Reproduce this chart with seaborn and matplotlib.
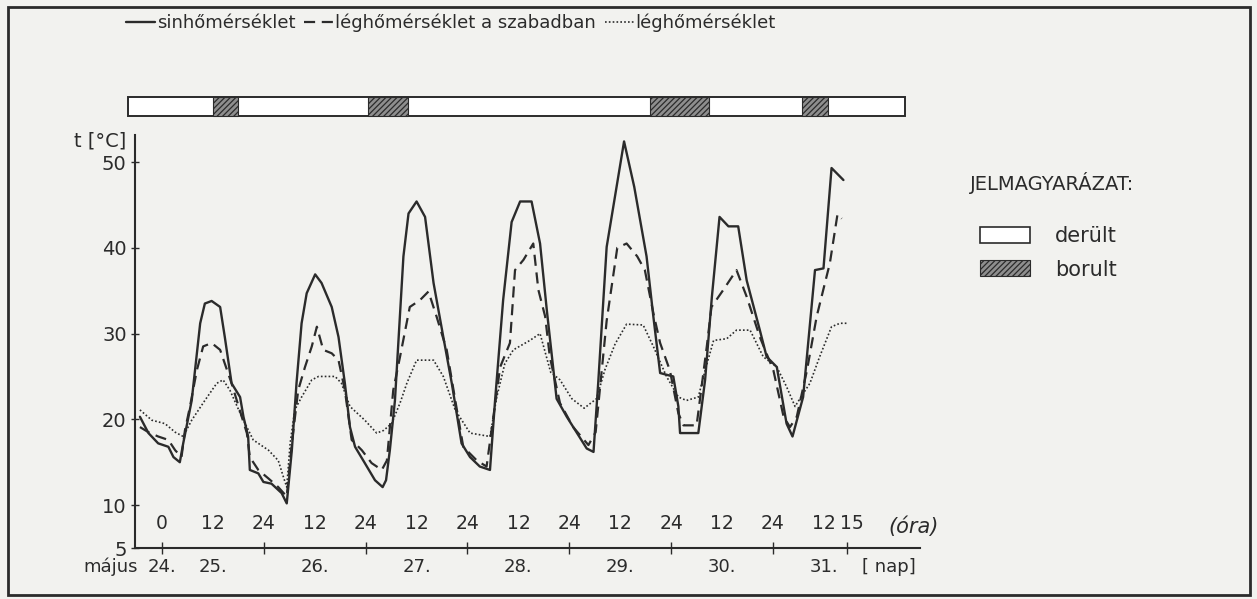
import numpy as np
import pandas as pd
import matplotlib
matplotlib.use('Agg')
import matplotlib.pyplot as plt
from matplotlib.patches import Patch, Rectangle
import seaborn as sns

# --- adatok (ora: május 25. 0 órától számolt órák) ---
sin_ora = [-5.2, -3.2, -0.9, 1.5, 2.7, 4.2, 5.0, 7.0, 9.0, 10.1, 11.7, 13.7, 14.8, 16.4, 18.4,
           19.2, 20.3, 20.7, 22.7, 23.9, 25.8, 28.2, 29.4, 30.6, 31.7, 32.9, 34.1, 36.1, 37.6,
           40.0, 41.6, 43.1, 44.3, 45.5, 47.8, 50.2, 52.0, 52.8, 53.7, 54.9, 56.9, 58.1, 60.0,
           62.0, 64.0, 66.3, 68.3, 70.6, 72.6, 74.9, 77.3, 78.5, 80.4, 82.4, 84.4, 87.1, 89.1,
           90.7, 93.0, 95.4, 100.1, 101.7, 102.8, 104.8, 108.9, 111.3, 114.2, 115.8, 117.4,
           118.9, 120.5, 121.7, 122.1, 126.4, 128.0, 129.6, 131.4, 133.5, 135.8, 137.8, 140.9,
           142.5, 144.9, 147.2, 148.6, 151.1, 153.9, 155.9, 157.8, 160.6]
sin_t = [20.3, 18.4, 17.2, 16.8, 15.6, 15.0, 17.2, 22.2, 31.2, 33.5, 33.8, 33.1, 29.6, 24.2, 22.6,
         20.3, 18.0, 14.1, 13.7, 12.7, 12.5, 11.4, 10.2, 16.4, 24.2, 31.2, 34.7, 36.9, 35.9,
         33.1, 29.6, 24.2, 19.1, 16.8, 14.9, 12.9, 12.1, 12.9, 16.4, 22.2, 39.0, 44.0, 45.4,
         43.6, 35.9, 29.6, 24.2, 17.2, 15.6, 14.5, 14.1, 22.2, 33.9, 43.0, 45.4, 45.4, 40.5,
         32.7, 22.4, 20.3, 16.6, 16.2, 24.2, 40.1, 52.4, 47.1, 39.0, 32.0, 25.4,
         25.2, 25.0, 21.5, 18.4, 18.4, 24.6, 34.3, 43.6, 42.5, 42.5, 36.2, 30.4,
         27.3, 26.1, 19.5, 18.0, 22.6, 37.4, 37.6, 49.3, 47.9]

szabad_ora = [-5.2, -3.2, -0.9, 1.5, 3.1, 4.6, 5.4, 6.6, 8.2, 9.7, 11.7, 13.7, 14.8, 16.4, 18.8,
              20.0, 20.7, 22.7, 25.1, 27.4, 29.4, 30.6, 32.1, 33.7, 35.3, 36.5, 38.0, 40.0, 41.6,
              43.1, 44.7, 47.1, 49.4, 51.8, 53.0, 54.5, 56.1, 58.4, 60.8, 62.8, 64.7, 67.1, 69.5,
              71.0, 74.2, 76.5, 78.1, 79.7, 82.0, 83.2, 85.2, 87.5, 88.7, 90.3, 91.4, 93.8, 96.9,
              100.5, 102.2, 104.8, 107.3, 109.5, 112.0, 113.8, 115.8, 117.4, 119.7, 121.7, 122.9,
              126.0, 128.4, 129.5, 132.3, 135.4, 137.8, 140.9, 144.1, 146.5, 148.0, 149.6, 152.0,
              154.3, 157.4, 159.2, 160.2]
szabad_t = [19.1, 18.5, 18.0, 17.6, 16.4, 15.6, 18.7, 21.5, 25.7, 28.5, 28.9, 28.1, 26.5, 24.2, 20.3,
            18.4, 15.6, 14.1, 13.1, 12.1, 11.0, 17.2, 23.4, 26.1, 28.5, 30.8, 28.1, 27.7, 26.9,
            23.4, 17.6, 16.4, 14.9, 14.1, 15.2, 23.4, 27.3, 33.1, 33.9, 34.9, 32.0, 28.1, 21.1,
            16.8, 15.2, 14.5, 20.3, 26.1, 28.9, 37.4, 38.6, 40.5, 35.1, 32.0, 27.3, 21.9, 19.1,
            17.0, 18.5, 31.5, 40.0, 40.5, 39.0, 37.4, 32.4, 28.9, 25.7, 20.7, 19.3,
            19.3, 28.5, 33.1, 35.1, 37.4, 34.3, 29.6, 25.7, 20.3, 19.1, 20.3, 25.7,
            32.0, 38.2, 43.9, 43.4]

leg_ora = [-5.2, -2.4, 0.7, 3.1, 5.0, 7.0, 10.1, 12.9, 14.4, 16.0, 18.8, 21.5, 25.1, 27.4, 28.6,
           29.4, 30.2, 31.3, 32.9, 35.3, 36.9, 40.8, 42.3, 44.3, 47.8, 50.6, 52.2, 54.1, 56.1,
           57.7, 60.0, 64.0, 66.3, 69.1, 72.6, 77.3, 78.9, 80.8, 82.8, 86.7, 89.1, 91.6, 93.8,
           96.6, 99.5, 102.4, 104.4, 106.8, 109.5, 113.4, 115.8, 118.9, 121.7, 123.6, 126.4,
           128.0, 130.0, 133.1, 135.4, 138.6, 141.7, 144.9, 147.2, 149.2, 151.1, 152.7, 155.0,
           157.8, 159.8, 161.7]
leg_t = [21.1, 19.9, 19.5, 18.5, 18.0, 19.9, 22.2, 24.2, 24.6, 23.4, 20.3, 17.6, 16.4, 15.2, 13.3,
         12.1, 17.2, 21.1, 22.6, 24.6, 25.0, 25.0, 24.2, 21.5, 19.9, 18.4, 18.7, 19.5, 21.9,
         24.2, 26.9, 26.9, 25.0, 21.1, 18.4, 18.0, 22.6, 26.5, 28.1, 29.2, 30.0, 25.5, 24.6,
         22.4, 21.3, 22.4, 25.8, 28.8, 31.1, 31.0, 28.5, 25.0, 22.6, 22.2, 22.6,
         25.7, 29.2, 29.4, 30.4, 30.4, 27.3, 26.1, 23.8, 21.5, 23.0, 24.2, 27.3,
         30.8, 31.2, 31.2]

# borult szakaszok a felső sávban (óra)
savo_eleje, savo_vege = -8.0, 175.0
borult_eleje = [12.0, 48.5, 115.0, 150.8]
borult_vege = [17.9, 57.9, 129.0, 157.0]

ora_pos = [0, 12, 24, 36, 48, 60, 72, 84, 96, 108, 120, 132, 144, 156, 162.5]
ora_cimke = ['0', '12', '24', '12', '24', '12', '24', '12', '24', '12', '24', '12', '24', '12', '15']
ejfel_pos = [0, 24, 48, 72, 96, 120, 144, 161.5]
nap_pos = [0, 12, 36, 60, 84, 108, 132, 156]
nap_cimke = ['24.', '25.', '26.', '27.', '28.', '29.', '30.', '31.']
y_ticks = [5, 10, 20, 30, 40, 50]

# --- rajz ---
sns.set_theme(style='white')
plt.rcParams['font.family'] = ['DejaVu Sans']
plt.rcParams['hatch.color'] = '#3a3a3a'
plt.rcParams['hatch.linewidth'] = 0.9

W, H = 1257, 599
ink = '#2b2b2b'
bg = '#f2f2ef'
fig = plt.figure(figsize=(W / 100, H / 100), dpi=100)
fig.patch.set_facecolor(bg)

def fx(px):
    return px / W

def fy(py):
    return 1 - py / H

x0, x1 = 135, 920
ax = fig.add_axes([fx(x0), fy(548), fx(x1) - fx(x0), fy(135) - fy(548)])
ax.set_facecolor('none')
ax.set_xlim((x0 - 162) / 4.243, (x1 - 162) / 4.243)
ax.set_ylim(5, 53.15)

sns.lineplot(x=sin_ora, y=sin_t, ax=ax, color=ink, lw=1.7, estimator=None, sort=False,
             label='sinhőmérséklet')
sns.lineplot(x=szabad_ora, y=szabad_t, ax=ax, color=ink, lw=1.6, estimator=None, sort=False,
             linestyle=(0, (5, 3)), label='léghőmérséklet a szabadban')
sns.lineplot(x=leg_ora, y=leg_t, ax=ax, color=ink, lw=1.2, estimator=None, sort=False,
             linestyle=(0, (1, 1.3)), label='léghőmérséklet')

handles, labels = ax.get_legend_handles_labels()
ax.get_legend().remove()

for s in ['top', 'right']:
    ax.spines[s].set_visible(False)
for s in ['left', 'bottom']:
    ax.spines[s].set_color(ink)
    ax.spines[s].set_linewidth(1.5)

ax.set_yticks(y_ticks)
ax.set_yticklabels([str(v) for v in y_ticks])
ax.tick_params(axis='y', direction='inout', length=6, width=1, color=ink, labelsize=14,
               labelcolor=ink, pad=3, left=True)
ax.set_xticks(ejfel_pos)
ax.set_xticklabels([])
ax.tick_params(axis='x', direction='inout', length=8, width=1, color=ink, bottom=True)
ax.set_xlabel('')
ax.set_ylabel('')

for p, c in zip(ora_pos, ora_cimke):
    ax.text(p, 7.8, c, ha='center', va='center', fontsize=13.5, color=ink)
trans = ax.get_xaxis_transform()
for p, c in zip(nap_pos, nap_cimke):
    ax.text(p, -0.045, c, ha='center', va='center', fontsize=13, color=ink, transform=trans)
ax.text(-5.6, -0.045, 'május', ha='right', va='center', fontsize=13, color=ink, transform=trans)
ax.text((888 - 162) / 4.243, 7.5, '(óra)', ha='left', va='center', fontsize=15, color=ink,
        style='italic')
ax.text((862 - 162) / 4.243, -0.045, '[ nap]', ha='left', va='center', fontsize=13, color=ink,
        transform=trans)
fig.text(fx(100), fy(141), 't [°C]', ha='center', va='center', fontsize=14, color=ink)

# felhőzet sáv
axb = fig.add_axes([fx(x0), fy(116), fx(x1) - fx(x0), fy(97) - fy(116)])
axb.set_xlim(ax.get_xlim())
axb.set_ylim(-0.5, 0.5)
axb.axis('off')
axb.barh([0], [savo_vege - savo_eleje], left=[savo_eleje], height=1, color='white',
         edgecolor=ink, lw=1.4, clip_on=False)
axb.barh([0] * len(borult_eleje), np.array(borult_vege) - np.array(borult_eleje),
         left=borult_eleje, height=1, color='#8e8e8e', edgecolor=ink, lw=0.8,
         hatch='//////', clip_on=False)

# jelmagyarázatok
fig.legend(handles, labels, loc='center left', bbox_to_anchor=(fx(110), fy(23)), ncol=3,
           frameon=False, fontsize=13, handlelength=1.6, handletextpad=0.1,
           columnspacing=0.5, labelcolor=ink)

fig.text(fx(970), fy(183), 'JELMAGYARÁZAT:', ha='left', va='center', fontsize=14, color=ink)
jel = [Patch(facecolor='white', edgecolor=ink, lw=1.2, label='derült'),
       Patch(facecolor='#8e8e8e', edgecolor=ink, lw=0.8, hatch='//////', label='borult')]
fig.legend(handles=jel, loc='upper left', bbox_to_anchor=(fx(980), fy(226)),
           frameon=False, fontsize=15, borderpad=0, borderaxespad=0,
           handlelength=2.4, handleheight=0.8, handletextpad=1.2, labelspacing=0.65,
           labelcolor=ink)

# keret
fig.add_artist(Rectangle((fx(8), fy(595)), fx(1250) - fx(8), fy(7) - fy(595),
                         transform=fig.transFigure, fill=False, edgecolor=ink, lw=2))

fig.savefig('out.png', dpi=100, facecolor=bg)
